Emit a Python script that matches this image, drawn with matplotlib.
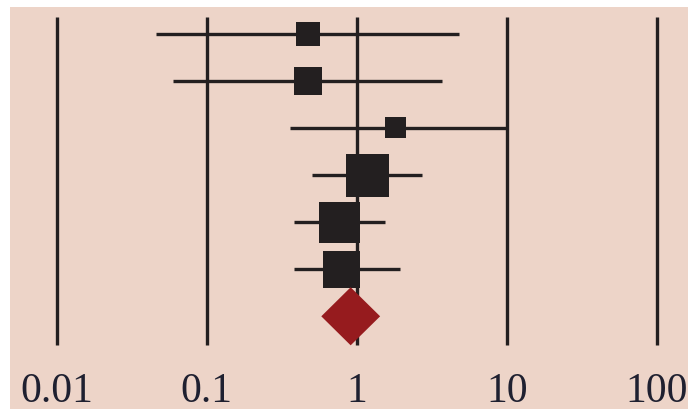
import matplotlib.pyplot as plt
from matplotlib.patches import Polygon
import numpy as np

# Study estimates (ratio scale) with 95% CI and weight (%)
estimates = [0.47, 0.47, 1.82, 1.17, 0.77, 0.79]
ci_low = [0.046, 0.060, 0.36, 0.50, 0.38, 0.38]
ci_high = [4.8, 3.7, 10.0, 2.72, 1.54, 1.94]
weights = [8.6, 11.7, 6.6, 27.6, 25.1, 20.4]

# Pooled estimate
pooled = 0.91
pooled_low = 0.58
pooled_high = 1.43

ref_lines = [0.01, 0.1, 1, 10, 100]
tick_labels = ['0.01', '0.1', '1', '10', '100']

bg = '#EDD4C8'
ink = '#231F20'
red = '#961B1E'

fig = plt.figure(figsize=(6.88, 4.10), dpi=100)
ax = fig.add_axes([10 / 688, 0, 678 / 688, 402 / 410])
ax.set_facecolor(bg)
for s in ax.spines.values():
    s.set_visible(False)

ax.set_xscale('log')
ax.set_xlim(10 ** -2.310, 10 ** 2.206)
ax.set_ylim(7.968, -0.567)
ax.set_xticks([])
ax.set_yticks([])
ax.minorticks_off()

# vertical reference lines
ax.vlines(ref_lines, -0.355, 6.61, color=ink, lw=2.4, zorder=1)

rows = np.arange(len(estimates))
ax.hlines(rows, ci_low, ci_high, color=ink, lw=2.4, zorder=2)

side_px = 81.85 * np.sqrt(np.array(weights) / 100)
ax.scatter(estimates, rows, marker='s', s=(side_px * 0.72) ** 2,
           color=ink, linewidths=0, zorder=3)

# pooled diamond
yd = len(estimates)
h = 0.616
diamond = Polygon([(pooled_low, yd), (pooled, yd - h), (pooled_high, yd), (pooled, yd + h)],
                  closed=True, facecolor=red, edgecolor='none', zorder=4)
ax.add_patch(diamond)

for x, lab in zip(ref_lines, tick_labels):
    ax.text(x, 0.02, lab, transform=ax.get_xaxis_transform(), ha='center', va='baseline',
            fontsize=30, family=['Liberation Serif', 'DejaVu Serif'], color='#1f2030')

plt.savefig('out.png', dpi=100)
